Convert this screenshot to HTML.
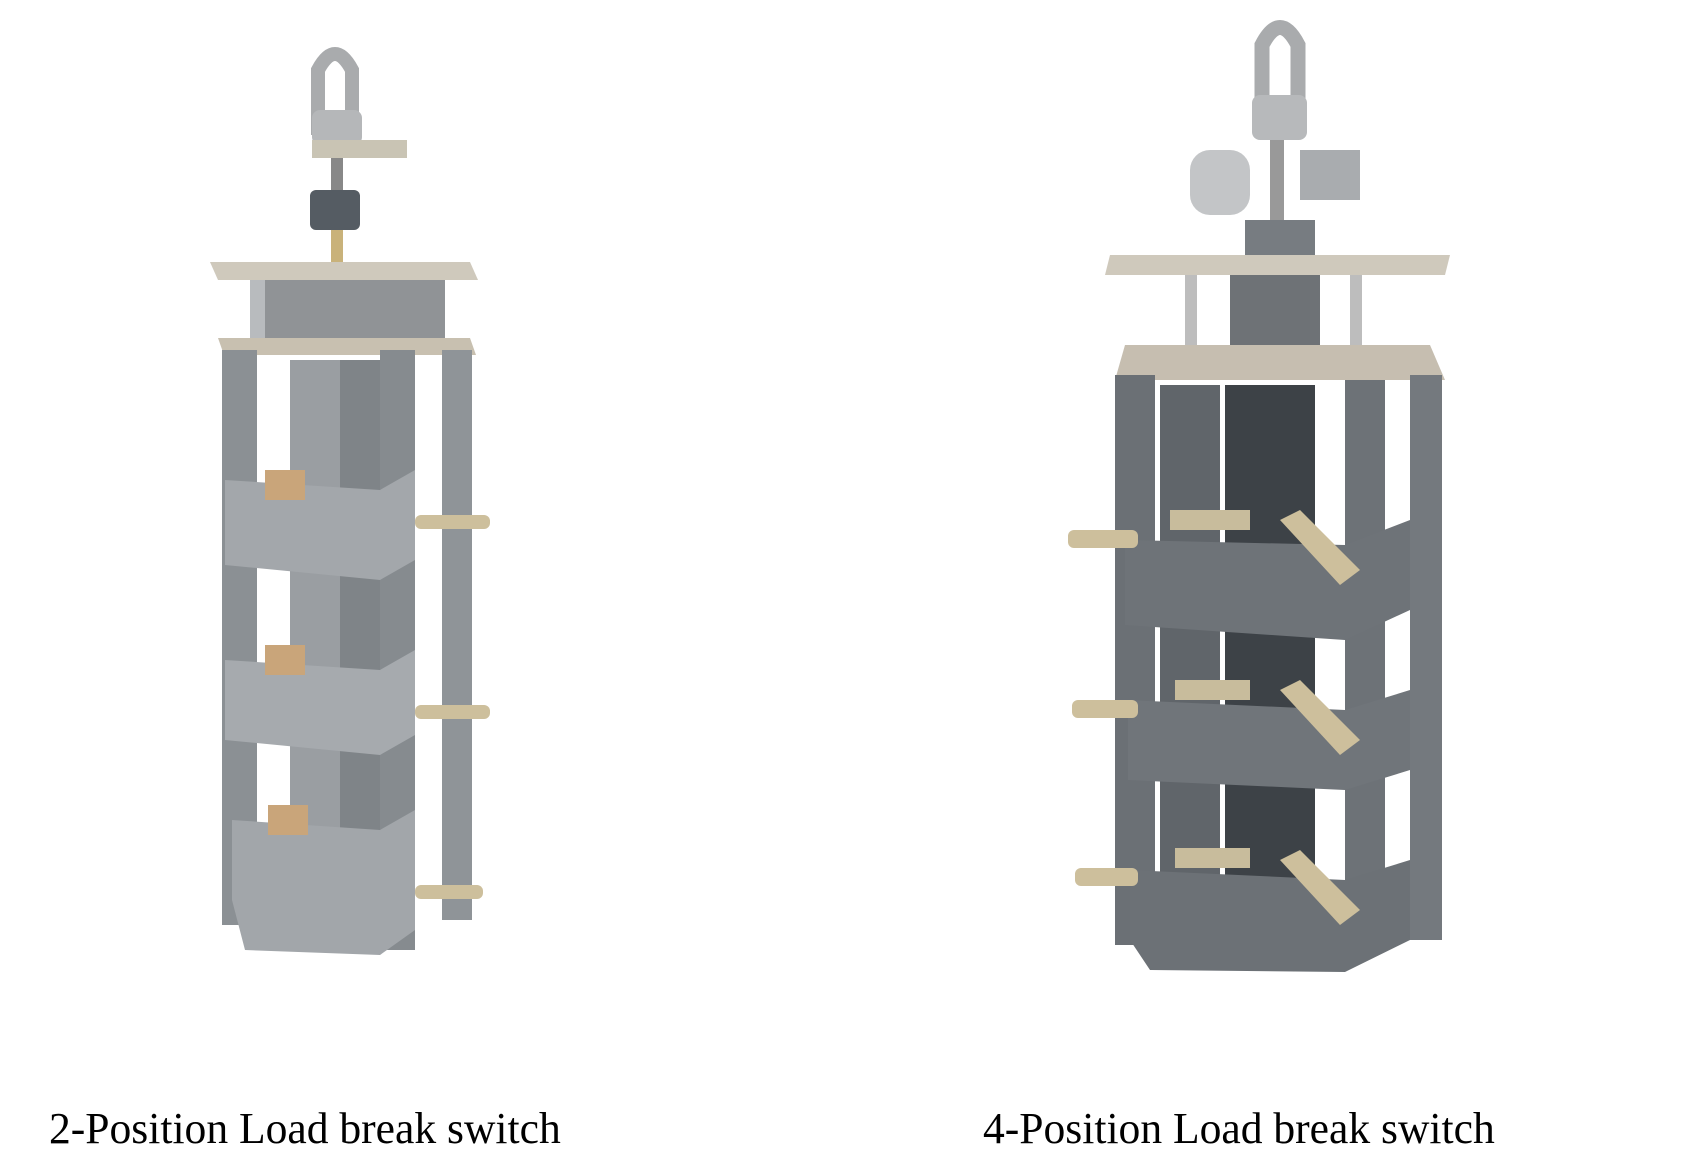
<!DOCTYPE html>
<html><head><style>
html,body{margin:0;padding:0;background:#fff;}
body{width:1685px;height:1161px;position:relative;overflow:hidden;}
.lbl{position:absolute;font-family:"Liberation Serif",serif;font-size:44px;color:#000;transform:scaleX(0.99);transform-origin:left top;white-space:nowrap;}
</style></head><body>
<svg width="1685" height="1161" style="position:absolute;left:0;top:0">
<g>
 <path d="M318 135 V70 Q335 38 352 70 V135" fill="none" stroke="#a9abad" stroke-width="14"/>
 <rect x="312" y="110" width="50" height="35" rx="8" fill="#b5b7b9"/>
 <rect x="312" y="140" width="95" height="18" fill="#c9c4b4"/>
 <rect x="331" y="158" width="12" height="40" fill="#888"/>
 <rect x="310" y="190" width="50" height="40" rx="6" fill="#555c63"/>
 <rect x="331" y="230" width="12" height="35" fill="#c9b27a"/>
 <polygon points="210,262 470,262 478,280 218,280" fill="#cfc9bc"/>
 <rect x="255" y="280" width="190" height="60" fill="#909396"/>
 <rect x="250" y="280" width="15" height="60" fill="#b8bbbe"/>
 <polygon points="218,338 470,338 476,355 224,355" fill="#c8c0b0"/>
 <rect x="222" y="350" width="35" height="575" fill="#8b9094"/>
 <rect x="380" y="350" width="35" height="600" fill="#868b8f"/>
 <rect x="442" y="350" width="30" height="570" fill="#8f9498"/>
 <rect x="290" y="360" width="50" height="580" fill="#9a9ea2"/>
 <rect x="340" y="360" width="40" height="570" fill="#7f8488"/>
 <polygon points="225,480 380,490 415,470 415,560 380,580 225,565" fill="#a3a7ab"/>
 <polygon points="225,660 380,670 415,650 415,735 380,755 225,740" fill="#a6aaae"/>
 <polygon points="232,820 380,830 415,810 415,930 380,955 245,950 232,900" fill="#a2a6aa"/>
 <rect x="415" y="515" width="75" height="14" rx="6" fill="#cdbf9c"/>
 <rect x="415" y="705" width="75" height="14" rx="6" fill="#cdbf9c"/>
 <rect x="415" y="885" width="68" height="14" rx="6" fill="#cdbf9c"/>
 <rect x="265" y="470" width="40" height="30" fill="#c9a57a"/>
 <rect x="265" y="645" width="40" height="30" fill="#c9a57a"/>
 <rect x="268" y="805" width="40" height="30" fill="#c9a57a"/>
</g>
<g>
 <path d="M1262 110 V45 Q1280 10 1298 45 V110" fill="none" stroke="#a9abad" stroke-width="15"/>
 <rect x="1252" y="95" width="55" height="45" rx="8" fill="#b7b9bb"/>
 <rect x="1190" y="150" width="60" height="65" rx="20" fill="#c3c5c7"/>
 <rect x="1300" y="150" width="60" height="50" fill="#a9acaf"/>
 <rect x="1270" y="140" width="14" height="100" fill="#999"/>
 <rect x="1245" y="220" width="70" height="50" fill="#777c81"/>
 <polygon points="1110,255 1450,255 1445,275 1105,275" fill="#cfc9bc"/>
 <rect x="1185" y="275" width="12" height="85" fill="#bdbdbd"/>
 <rect x="1350" y="275" width="12" height="85" fill="#bdbdbd"/>
 <rect x="1230" y="275" width="90" height="85" fill="#6e7276"/>
 <polygon points="1125,345 1430,345 1445,380 1115,380" fill="#c6beb0"/>
 <rect x="1115" y="375" width="40" height="570" fill="#6b7075"/>
 <rect x="1345" y="380" width="40" height="560" fill="#6d7277"/>
 <rect x="1410" y="375" width="32" height="565" fill="#74797e"/>
 <rect x="1225" y="385" width="90" height="540" fill="#3d4247"/>
 <rect x="1160" y="385" width="60" height="520" fill="#60656a"/>
 <polygon points="1125,540 1345,545 1410,520 1410,610 1345,640 1125,625" fill="#6e7378"/>
 <polygon points="1128,700 1345,710 1410,690 1410,770 1345,790 1128,780" fill="#70757a"/>
 <polygon points="1130,870 1345,880 1410,860 1410,940 1345,972 1150,970 1130,940" fill="#6c7176"/>
 <rect x="1068" y="530" width="70" height="18" rx="6" fill="#cdbf9c"/>
 <rect x="1072" y="700" width="66" height="18" rx="6" fill="#cdbf9c"/>
 <rect x="1075" y="868" width="63" height="18" rx="6" fill="#cdbf9c"/>
 <polygon points="1280,520 1300,510 1360,570 1340,585" fill="#cdbf9c"/>
 <polygon points="1280,690 1300,680 1360,740 1340,755" fill="#cdbf9c"/>
 <polygon points="1280,860 1300,850 1360,910 1340,925" fill="#cdbf9c"/>
 <rect x="1170" y="510" width="80" height="20" fill="#c8bc9c"/>
 <rect x="1175" y="680" width="75" height="20" fill="#c8bc9c"/>
 <rect x="1175" y="848" width="75" height="20" fill="#c8bc9c"/>
</g>
</svg>
<div class="lbl" style="left:49px;top:1103px;">2-Position Load break switch</div>
<div class="lbl" style="left:983px;top:1103px;">4-Position Load break switch</div>
</body></html>
